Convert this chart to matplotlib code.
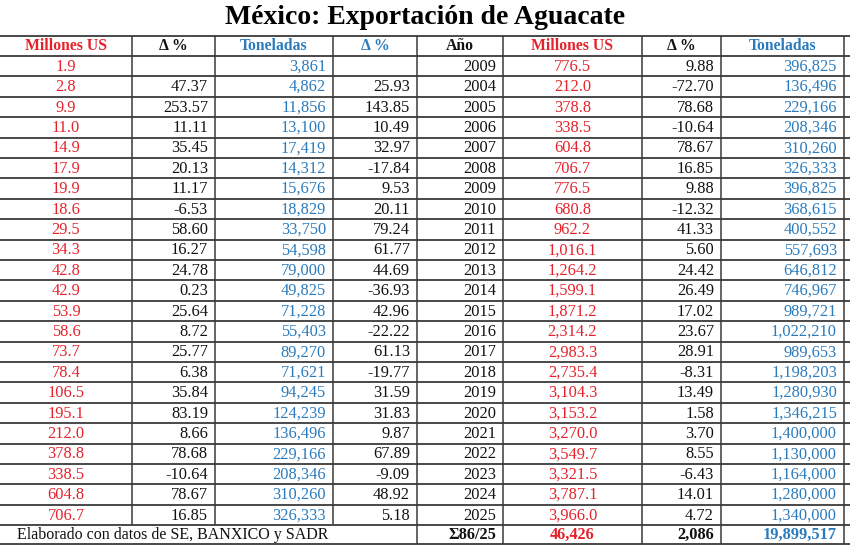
import matplotlib
matplotlib.use("Agg")
import matplotlib.pyplot as plt

# bloque izquierdo (sin columna de año, recortada en el original)
millones_a = [1.9, 2.8, 9.9, 11.0, 14.9, 17.9, 19.9, 18.6, 29.5, 34.3, 42.8, 42.9,
              53.9, 58.6, 73.7, 78.4, 106.5, 195.1, 212.0, 378.8, 338.5, 604.8, 706.7]
delta_m_a = [None, 47.37, 253.57, 11.11, 35.45, 20.13, 11.17, -6.53, 58.60, 16.27, 24.78,
             0.23, 25.64, 8.72, 25.77, 6.38, 35.84, 83.19, 8.66, 78.68, -10.64, 78.67, 16.85]
toneladas_a = [3861, 4862, 11856, 13100, 17419, 14312, 15676, 18829, 33750, 54598, 79000,
               49825, 71228, 55403, 89270, 71621, 94245, 124239, 136496, 229166, 208346,
               310260, 326333]
delta_t_a = [None, 25.93, 143.85, 10.49, 32.97, -17.84, 9.53, 20.11, 79.24, 61.77, 44.69,
             -36.93, 42.96, -22.22, 61.13, -19.77, 31.59, 31.83, 9.87, 67.89, -9.09, 48.92, 5.18]

# bloque derecho
anio = [2009, 2004, 2005, 2006, 2007, 2008, 2009, 2010, 2011, 2012, 2013, 2014, 2015,
        2016, 2017, 2018, 2019, 2020, 2021, 2022, 2023, 2024, 2025]
millones_b = [776.5, 212.0, 378.8, 338.5, 604.8, 706.7, 776.5, 680.8, 962.2, 1016.1, 1264.2,
              1599.1, 1871.2, 2314.2, 2983.3, 2735.4, 3104.3, 3153.2, 3270.0, 3549.7,
              3321.5, 3787.1, 3966.0]
delta_m_b = [9.88, -72.70, 78.68, -10.64, 78.67, 16.85, 9.88, -12.32, 41.33, 5.60, 24.42,
             26.49, 17.02, 23.67, 28.91, -8.31, 13.49, 1.58, 3.70, 8.55, -6.43, 14.01, 4.72]
toneladas_b = [396825, 136496, 229166, 208346, 310260, 326333, 396825, 368615, 400552,
               557693, 646812, 746967, 989721, 1022210, 989653, 1198203, 1280930, 1346215,
               1400000, 1130000, 1164000, 1280000, 1340000]

headers = ["Millones US", "Δ %", "Toneladas", "Δ %", "Año", "Millones US", "Δ %", "Toneladas"]
totales = ["Σ86/25", "46,426", "2,086", "19,899,517"]
fuente = "Elaborado con datos de SE, BANXICO y SADR"

RED = "#e5222b"
BLUE = "#2a7bbd"
BLACK = "#111111"
LINE = "#3a3a3a"

plt.rcParams["font.family"] = ["Liberation Serif", "DejaVu Serif"]

fig = plt.figure(figsize=(8.5, 5.5), dpi=100)
ax = fig.add_axes([0, 0, 1, 1])
ax.set_xlim(0, 850)
ax.set_ylim(550, 0)
ax.axis("off")

edges = [0, 132, 215, 333, 417, 503, 642, 721, 844]
top = 35.5
head_h = 20.5
row_h = 20.4
n = len(anio)
body_top = top + head_h
body_bot = body_top + n * row_h
foot_bot = body_bot + 19

# líneas horizontales
ys = [top, body_top] + [body_top + (i + 1) * row_h for i in range(n)] + [foot_bot]
for y in ys:
    ax.plot([0, 850], [y, y], color=LINE, lw=1.3, solid_capstyle="butt")

# líneas verticales (en la fila de totales la izquierda va fusionada)
for x in edges[1:]:
    bottom = foot_bot if x >= 417 else body_bot
    ax.plot([x, x], [top, bottom], color=LINE, lw=1.1, solid_capstyle="butt")


def fmt_pct(v):
    return "" if v is None else f"{v:.2f}"


# alineación por columna: 'c' centrado, 'r' derecha
align = ["c", "r", "r", "r", "r", "c", "r", "r"]
hcolors = [RED, BLACK, BLUE, BLUE, BLACK, RED, BLACK, BLUE]
colcolors = [RED, BLACK, BLUE, BLACK, BLACK, RED, BLACK, BLUE]
FS = 11.8


def put(col, y, s, color, weight="normal", size=FS):
    x0, x1 = edges[col], edges[col + 1]
    if align[col] == "c":
        ax.text((x0 + x1) / 2, y, s, ha="center", va="center", color=color,
                fontsize=size, fontweight=weight)
    else:
        ax.text(x1 - 7, y, s, ha="right", va="center", color=color,
                fontsize=size, fontweight=weight)


# encabezados (centrados)
for j, h in enumerate(headers):
    x0, x1 = edges[j], edges[j + 1]
    ax.text((x0 + x1) / 2, top + head_h / 2 + 0.5, h, ha="center", va="center",
            color=hcolors[j], fontsize=11.3, fontweight="bold")

for i in range(n):
    y = body_top + (i + 0.5) * row_h + 0.5
    vals = [f"{millones_a[i]:.1f}", fmt_pct(delta_m_a[i]), f"{toneladas_a[i]:,}",
            fmt_pct(delta_t_a[i]), str(anio[i]), f"{millones_b[i]:,.1f}",
            fmt_pct(delta_m_b[i]), f"{toneladas_b[i]:,}"]
    for j, s in enumerate(vals):
        put(j, y, s, colcolors[j])

# fila de totales
yf = (body_bot + foot_bot) / 2 + 0.5
ax.text(17, yf, fuente, ha="left", va="center", color=BLACK, fontsize=11.5)
for k, s in enumerate(totales):
    put(4 + k, yf, s, colcolors[4 + k], weight="bold")

ax.text(425, 18, "México: Exportación de Aguacate", ha="center", va="center",
        fontsize=20, fontweight="bold", color="black")

fig.savefig("out.png", dpi=100)
